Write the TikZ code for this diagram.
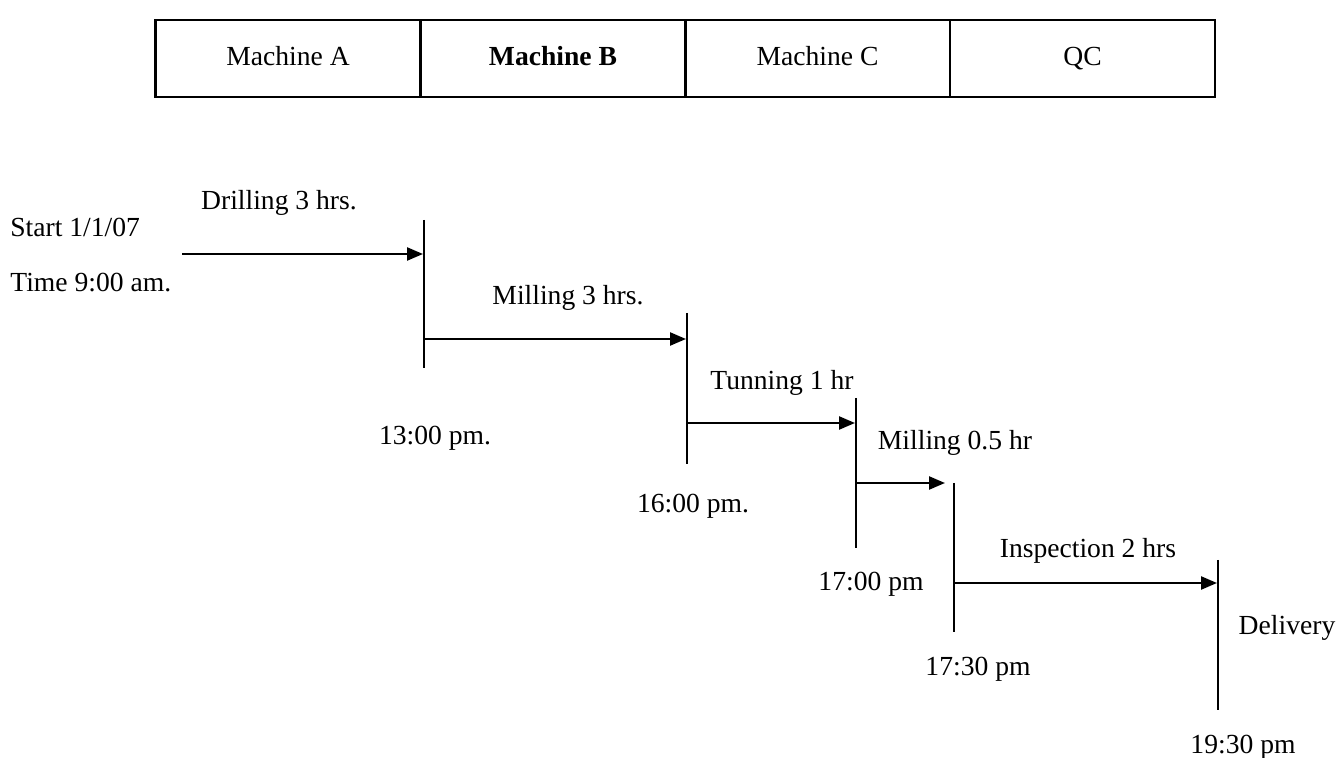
\documentclass[tikz,border=0pt]{standalone}
\usepackage{fontspec}
\setmainfont{Liberation Serif}
\usetikzlibrary{arrows.meta}
\begin{document}
\begin{tikzpicture}[x=0.5pt,y=-0.5pt,
  cell/.style={draw,line width=1.1pt,minimum width=132.5pt,minimum height=38.5pt,inner sep=0pt,outer sep=0pt,text height=0.68em,text depth=0pt,font=\fontsize{13.8}{16}\selectfont},
  lbl/.style={inner sep=0pt,font=\fontsize{13.8}{16}\selectfont},
  flow/.style={line width=1.15pt,-{Triangle[length=8pt,width=6.5pt]}},
  bar/.style={line width=1.15pt}]
\useasboundingbox (0,0) rectangle (1338,758);
% header table
\node[cell] (ma) at (288,58.5) {Machine A};
\node[cell] (mb) at (553,58.5) {\textbf{Machine B}};
\node[cell] (mc) at (817.5,58.5) {Machine C};
\node[cell] (qc) at (1082.5,58.5) {QC};
% labels
\node[lbl,anchor=west] (start) at (10,227) {Start 1/1/07};
\node[lbl,anchor=west] (time) at (10,283) {Time 9:00 am.};
\node[lbl] (drill) at (279,203) {Drilling 3 hrs.};
\node[lbl] (mill) at (568,298) {Milling 3 hrs.};
\node[lbl] (turn) at (782,383) {Tunning 1 hr};
\node[lbl] (mill2) at (955,443) {Milling 0.5 hr};
\node[lbl] (insp) at (1088,551) {Inspection 2 hrs};
\node[lbl] (deliv) at (1287,628) {Delivery};
\node[lbl] (t13) at (435,438) {13:00 pm.};
\node[lbl] (t16) at (693,506) {16:00 pm.};
\node[lbl] (t17) at (871,584) {17:00 pm};
\node[lbl] (t1730) at (978,669) {17:30 pm};
\node[lbl] (t1930) at (1243,747) {19:30 pm};
% milestone bars
\coordinate (v1t) at (424,220); \coordinate (v1b) at (424,368);
\coordinate (v2t) at (687,313); \coordinate (v2b) at (687,464);
\coordinate (v3t) at (856,398); \coordinate (v3b) at (856,548);
\coordinate (v4t) at (954,483); \coordinate (v4b) at (954,632);
\coordinate (v5t) at (1218,560); \coordinate (v5b) at (1218,710);
\draw[bar] (v1t) -- (v1b);
\draw[bar] (v2t) -- (v2b);
\draw[bar] (v3t) -- (v3b);
\draw[bar] (v4t) -- (v4b);
\draw[bar] (v5t) -- (v5b);
% arrows
\coordinate (a0) at (182,254); \coordinate (a0e) at (423,254);
\coordinate (a1) at (424,339); \coordinate (a1e) at (686,339);
\coordinate (a2) at (687,423); \coordinate (a2e) at (855,423);
\coordinate (a3) at (856,483); \coordinate (a3e) at (945,483);
\coordinate (a4) at (955,583); \coordinate (a4e) at (1217,583);
\draw[flow] (a0) -- (a0e);
\draw[flow] (a1) -- (a1e);
\draw[flow] (a2) -- (a2e);
\draw[flow] (a3) -- (a3e);
\draw[flow] (a4) -- (a4e);
\end{tikzpicture}
\end{document}
